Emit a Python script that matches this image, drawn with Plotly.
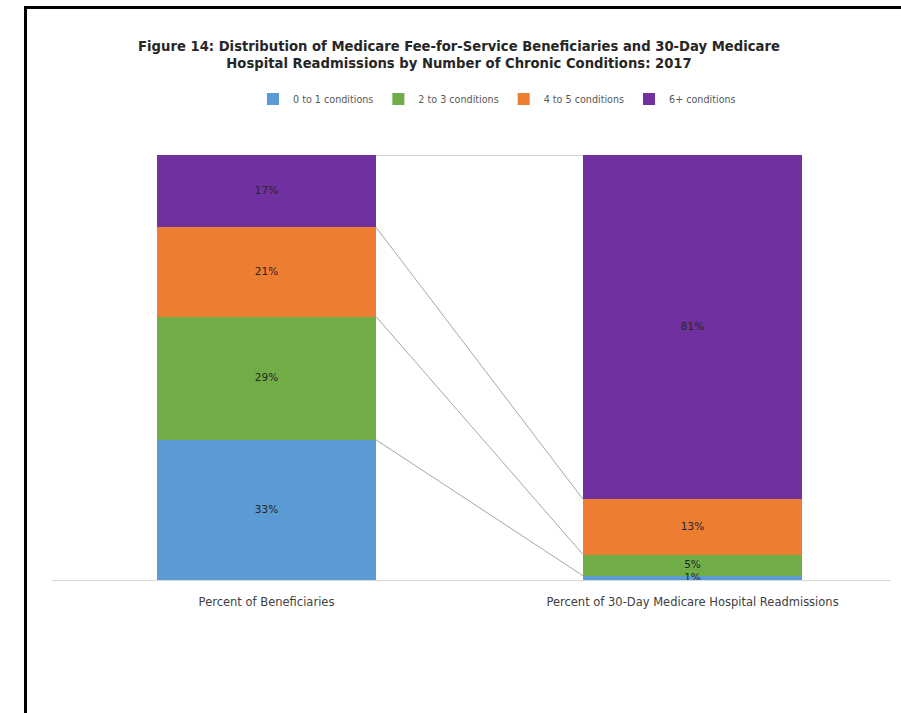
import plotly.graph_objects as go

categories = ["Percent of Beneficiaries", "Percent of 30-Day Medicare Hospital Readmissions"]
series_names = ["0 to 1 conditions", "2 to 3 conditions", "4 to 5 conditions", "6+ conditions"]
beneficiaries = [33, 29, 21, 17]
readmissions = [1, 5, 13, 81]
colors = ["#5B9BD5", "#70AD47", "#ED7D31", "#7030A0"]

W, H = 901, 713
bar_w = 0.514
xpos = [0, 1]
FONT = "DejaVu Sans"

fig = go.Figure()
for i, name in enumerate(series_names):
    vals = [beneficiaries[i], readmissions[i]]
    fig.add_trace(go.Bar(
        x=xpos, y=vals, name=name, width=bar_w,
        marker=dict(color=colors[i], line=dict(width=0)),
        hoverinfo="skip",
    ))

# cumulative boundaries
cum_l, cum_r = [], []
sl = sr = 0
for a, b in zip(beneficiaries, readmissions):
    sl += a; sr += b
    cum_l.append(sl); cum_r.append(sr)

# series lines connecting cumulative boundaries
for yl, yr in zip(cum_l, cum_r):
    fig.add_trace(go.Scatter(
        x=[xpos[0] + bar_w / 2, xpos[1] - bar_w / 2], y=[yl, yr],
        mode="lines", line=dict(color="#A6A6A6", width=1),
        showlegend=False, hoverinfo="skip"))

# data labels at segment centres
lx, ly, lt = [], [], []
for vals, cum, xp in ((beneficiaries, cum_l, xpos[0]), (readmissions, cum_r, xpos[1])):
    for v, c in zip(vals, cum):
        lx.append(xp); ly.append(c - v / 2); lt.append(f"{v}%")
fig.add_trace(go.Scatter(
    x=lx, y=ly, text=lt, mode="text", textposition="middle center",
    textfont=dict(size=10.5, color="#262626", family=FONT),
    showlegend=False, hoverinfo="skip", cliponaxis=False))

x0, x1 = 52, 891
c0, c1 = 266.5, 692.5
unit = c1 - c0
xr = [-(c0 - x0) / unit, 1 + (x1 - c1) / unit]

fig.update_layout(
    width=W, height=H, barmode="stack",
    margin=dict(l=0, r=0, t=0, b=0),
    paper_bgcolor="white", plot_bgcolor="white",
    font=dict(family=FONT, color="#404040"),
    title=dict(
        text="<b>Figure 14: Distribution of Medicare Fee-for-Service Beneficiaries and 30-Day Medicare<br>Hospital Readmissions by Number of Chronic Conditions: 2017</b>",
        x=459 / W, xanchor="center", y=1 - 51 / H, yanchor="middle",
        font=dict(size=13.2, color="#262626", family=FONT)),
    legend=dict(orientation="h", x=253 / W, xanchor="left", y=1 - 99 / H, yanchor="middle",
                font=dict(size=9.6, color="#595959"), traceorder="normal",
                itemsizing="constant", tracegroupgap=0),
    xaxis=dict(domain=[x0 / W, x1 / W], range=xr, tickvals=xpos, ticktext=categories,
               showgrid=False, zeroline=False, showline=True, linecolor="#D9D9D9", linewidth=1,
               ticks="outside", ticklen=11, tickcolor="rgba(0,0,0,0)",
               tickfont=dict(size=11.5, color="#404040")),
    yaxis=dict(domain=[1 - 580 / H, 1 - 155 / H], range=[0, 100], showgrid=False,
               zeroline=False, showticklabels=False, showline=False),
    shapes=[
        dict(type="line", xref="paper", yref="paper", x0=24 / W, x1=1, y0=1 - 7.5 / H, y1=1 - 7.5 / H,
             line=dict(color="black", width=3)),
        dict(type="line", xref="paper", yref="paper", x0=25.5 / W, x1=25.5 / W, y0=0, y1=1 - 6 / H,
             line=dict(color="black", width=3)),
    ],
)

fig.write_html("out.html")
